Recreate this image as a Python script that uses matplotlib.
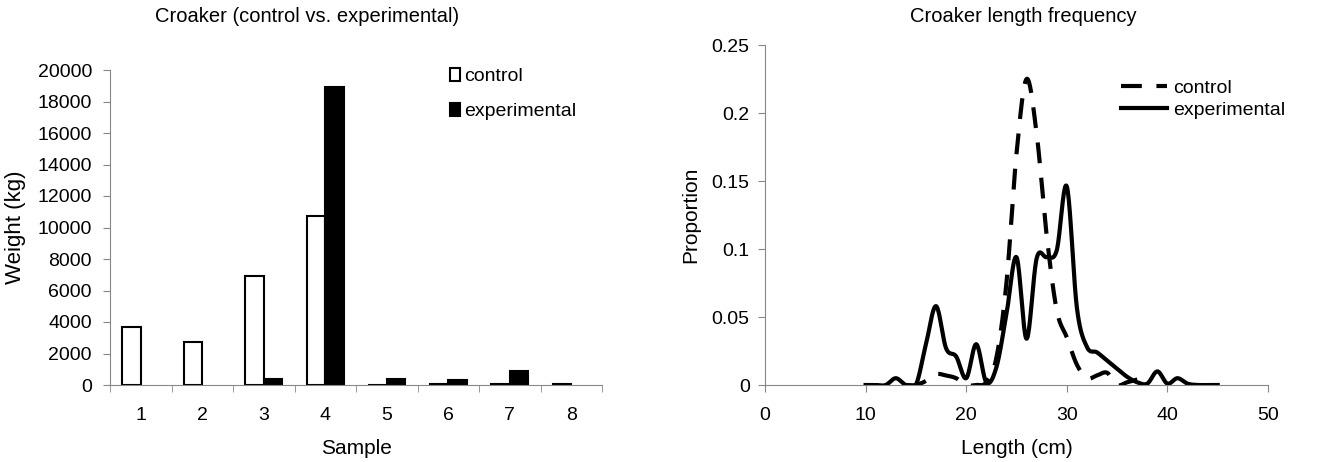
import numpy as np
import matplotlib
matplotlib.use("Agg")
import matplotlib.pyplot as plt
from matplotlib.ticker import FuncFormatter

plt.rcParams['font.family'] = ['Liberation Sans', 'DejaVu Sans']

# left chart data
samples = [1, 2, 3, 4, 5, 6, 7, 8]
control_kg = [3700, 2700, 6950, 10750, 30, 40, 80, 70]
experimental_kg = [0, 0, 400, 18900, 350, 320, 900, 0]

# right chart data (proportion per 1 cm length class)
control_len = [14, 15, 16, 17, 18, 19, 20, 21, 22, 23, 24, 25, 26, 27, 28,
               29, 30, 31, 32, 33, 34, 35, 36, 37]
control_prop = [0, 0, 0.003, 0.008, 0.007, 0.005, 0, 0, 0.002, 0.02, 0.075,
                0.17, 0.225, 0.185, 0.11, 0.055, 0.035, 0.015, 0.005, 0.007,
                0.009, 0, 0.002, 0.004]
exp_len = list(range(10, 46))
exp_prop = [0, 0, 0, 0.005, 0, 0, 0.03, 0.058, 0.027, 0.021, 0.005, 0.03,
            0.002, 0.013, 0.052, 0.094, 0.034, 0.093, 0.094, 0.099, 0.146,
            0.057, 0.028, 0.024, 0.018, 0.012, 0.006, 0.002, 0.001, 0.010,
            0.001, 0.005, 0.001, 0, 0, 0]


def smooth(x, y, n=20):
    # catmull-rom style smoothing, like a spreadsheet "smoothed line"
    x = np.asarray(x, float)
    y = np.asarray(y, float)
    px = np.concatenate([[2 * x[0] - x[1]], x, [2 * x[-1] - x[-2]]])
    py = np.concatenate([[y[0]], y, [y[-1]]])
    xs, ys = [], []
    t = np.linspace(0, 1, n, endpoint=False)
    for i in range(1, len(px) - 2):
        for arr, out in ((px, xs), (py, ys)):
            p0, p1, p2, p3 = arr[i - 1], arr[i], arr[i + 1], arr[i + 2]
            out.extend(0.5 * ((2 * p1) + (-p0 + p2) * t
                              + (2 * p0 - 5 * p1 + 4 * p2 - p3) * t ** 2
                              + (-p0 + 3 * p1 - 3 * p2 + p3) * t ** 3))
    xs.append(x[-1])
    ys.append(y[-1])
    return np.array(xs), np.array(ys)


W, H = 1329, 462
fig = plt.figure(figsize=(W / 100, H / 100), dpi=100)
gray = '#888888'
tick_fs = 14
lab_fs = 15

# ---- left: bar chart
ax1 = fig.add_axes([110 / W, (H - 385) / H, 492 / W, 315 / H])
xs = np.array(samples)
w = 0.3
cx_, cv_ = zip(*[(x, v) for x, v in zip(xs, control_kg) if v > 0])
ex_, ev_ = zip(*[(x, v) for x, v in zip(xs, experimental_kg) if v > 0])
ax1.bar(np.array(cx_) - w / 2, cv_, w, color='white', edgecolor='black',
        lw=1.5, label='control')
ax1.bar(np.array(ex_) + w / 2, ev_, w, color='black', edgecolor='black',
        lw=1.5, label='experimental')
ax1.set_xlim(0.5, 8.5)
ax1.set_ylim(0, 20000)
ax1.set_yticks(np.arange(0, 20001, 2000))
ax1.set_xticks(samples)
ax1.set_xticks(np.arange(0.5, 9, 1), minor=True)
ax1.tick_params(axis='x', which='major', length=0, pad=16, labelsize=tick_fs)
ax1.tick_params(axis='x', which='minor', length=5, color=gray)
ax1.tick_params(axis='y', length=5, color=gray, labelsize=tick_fs, pad=8)
ax1.set_xlabel('Sample', fontsize=lab_fs)
ax1.set_ylabel('Weight (kg)', fontsize=lab_fs + 1)
ax1.xaxis.set_label_coords(0.5, -0.172)
ax1.yaxis.set_label_coords(-0.17, 0.5)
for s in ['top', 'right']:
    ax1.spines[s].set_visible(False)
for s in ['left', 'bottom']:
    ax1.spines[s].set_color(gray)
ax1.legend(loc='center left', bbox_to_anchor=((440 - 110) / 492, (385 - 94) / 315),
           frameon=False, fontsize=tick_fs, handlelength=0.55, handleheight=0.7,
           handletextpad=0.2, labelspacing=0.9, borderpad=0)
fig.text(155 / W, 1 - 17 / H, 'Croaker (control vs. experimental)',
         ha='left', va='center', fontsize=14.5)

# ---- right: length frequency
ax2 = fig.add_axes([765 / W, (H - 385) / H, 503 / W, 340 / H])
cx, cy = smooth(control_len, control_prop)
ex, ey = smooth(exp_len, exp_prop)
ax2.plot(cx, cy, color='black', lw=3, dashes=(5, 3.5), label='control')
ax2.plot(ex, ey, color='black', lw=3, label='experimental')
ax2.set_xlim(0, 50)
ax2.set_ylim(0, 0.25)
ax2.set_xticks(np.arange(0, 51, 10))
ax2.set_yticks(np.arange(0, 0.251, 0.05))
ax2.yaxis.set_major_formatter(FuncFormatter(lambda v, p: '%g' % round(v, 2)))
ax2.tick_params(axis='x', length=5, color=gray, labelsize=tick_fs, pad=11)
ax2.tick_params(axis='y', length=5, color=gray, labelsize=tick_fs, pad=6)
ax2.set_xlabel('Length (cm)', fontsize=lab_fs)
ax2.set_ylabel('Proportion', fontsize=lab_fs)
ax2.xaxis.set_label_coords(0.5, -0.16)
ax2.yaxis.set_label_coords(-0.128, 0.5)
for s in ['top', 'right']:
    ax2.spines[s].set_visible(False)
for s in ['left', 'bottom']:
    ax2.spines[s].set_color(gray)
ax2.legend(loc='center left', bbox_to_anchor=((1111 - 765) / 503, (385 - 99) / 340),
           frameon=False, fontsize=tick_fs, handlelength=2.4, handletextpad=0.3,
           labelspacing=0.2, borderpad=0)
fig.text(910 / W, 1 - 17 / H, 'Croaker length frequency',
         ha='left', va='center', fontsize=14.5)

fig.savefig('out.png', dpi=100)
